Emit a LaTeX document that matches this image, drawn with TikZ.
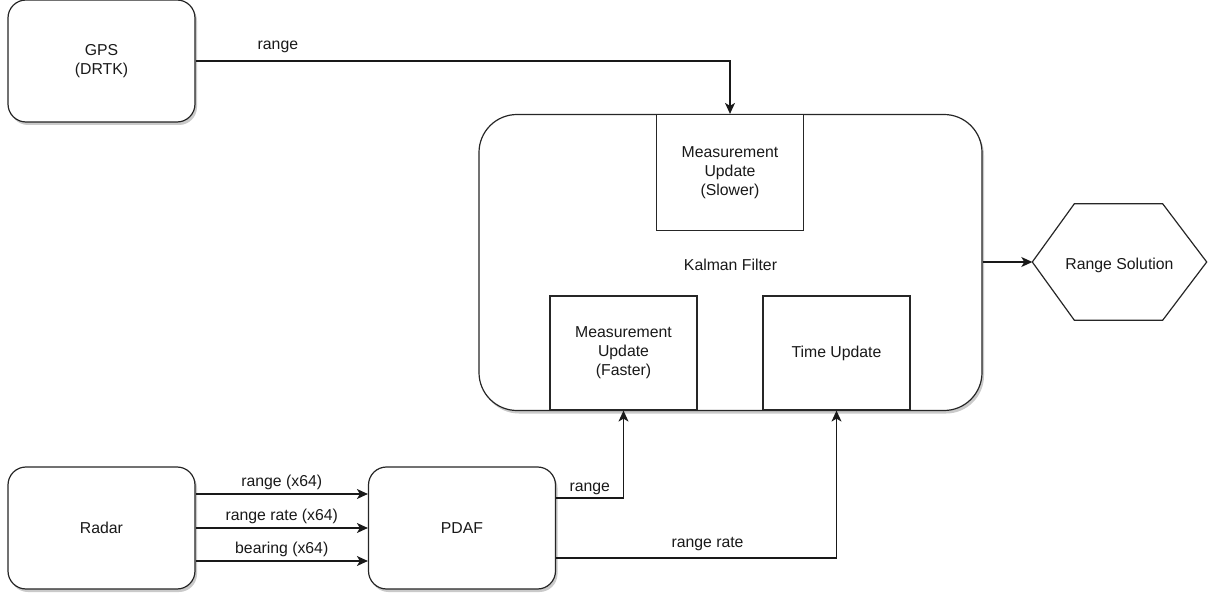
\documentclass[tikz,border=0pt]{standalone}
\usepackage{fontspec}
\setmainfont{Liberation Sans}
\usetikzlibrary{shadows,arrows.meta,calc}
\tikzset{
  every node/.style={font=\fontsize{15.8}{19}\selectfont, text=black!90},
  unit/.style={draw=black!85, line width=1.2pt, fill=white, rounded corners=18pt,
    align=center, minimum width=187pt, minimum height=122pt,
    drop shadow={shadow xshift=2pt, shadow yshift=-3pt, fill=black!35, opacity=0.6}},
  filterbox/.style={draw=black!85, line width=1.2pt, fill=white, rounded corners=38pt,
    align=center, minimum width=503pt, minimum height=296pt,
    drop shadow={shadow xshift=2pt, shadow yshift=-3pt, fill=black!35, opacity=0.6}},
  subbox/.style={draw=black!85, line width=1.2pt, fill=white, align=center,
    minimum width=147pt},
  link/.style={draw=black!90, line width=1.2pt, -{Stealth[length=11pt,width=10pt,inset=3pt]}},
  tag/.style={inner sep=1pt},
  lowtext/.style={text height=15pt, text depth=0pt}
}
\begin{document}
\begin{tikzpicture}[x=1pt,y=-1pt]
\useasboundingbox (0,0) rectangle (1208,596);

% sensors and association stage
\node[unit] (gps)   at (101.5,61)  {GPS\\(DRTK)};
\node[unit] (radar) at (101.5,528) {Radar};
\node[unit] (pdaf)  at (462,528)   {PDAF};

% Kalman filter with its update blocks
\node[filterbox, lowtext] (kf) at (730.5,262.5) {Kalman Filter};
\node[subbox, minimum height=116pt] (mus) at (730,172.5) {Measurement\\Update\\(Slower)};
\node[subbox, minimum height=114pt] (muf) at (623.5,353) {Measurement\\Update\\(Faster)};
\node[subbox, minimum height=114pt] (tu)  at (836.5,353) {Time Update};

% output
\coordinate (hex) at (1119.5,262);
\node[minimum width=174pt, minimum height=116pt, lowtext] (sol) at (hex) {Range Solution};
\draw[black!85, line width=1.2pt]
  (sol.west) -- ($(sol.north west)+(42,0)$) -- ($(sol.north east)+(-44,0)$)
  -- (sol.east) -- ($(sol.south east)+(-44,0)$) -- ($(sol.south west)+(42,0)$) -- cycle;

% connectors
\draw[link] (gps.east) -| node[tag, pos=0.077, above=7pt] {range} (mus.north);
\draw[link] ([yshift=34pt]radar.east) -- node[tag, above=3pt] {range (x64)} ([yshift=34pt]pdaf.west);
\draw[link] (radar.east) -- node[tag, above=3pt] {range rate (x64)} (pdaf.west);
\draw[link] ([yshift=-33pt]radar.east) -- node[tag, above=3pt] {bearing (x64)} ([yshift=-33pt]pdaf.west);
\draw[link] ([yshift=30pt]pdaf.east) -| node[tag, pos=0.25, above=2pt] {range} (muf.south);
\draw[link] ([yshift=-30pt]pdaf.east) -| node[tag, pos=0.27, above=6pt] {range rate} (tu.south);
\draw[link] (kf.east |- sol.west) -- (sol.west);
\end{tikzpicture}
\end{document}
